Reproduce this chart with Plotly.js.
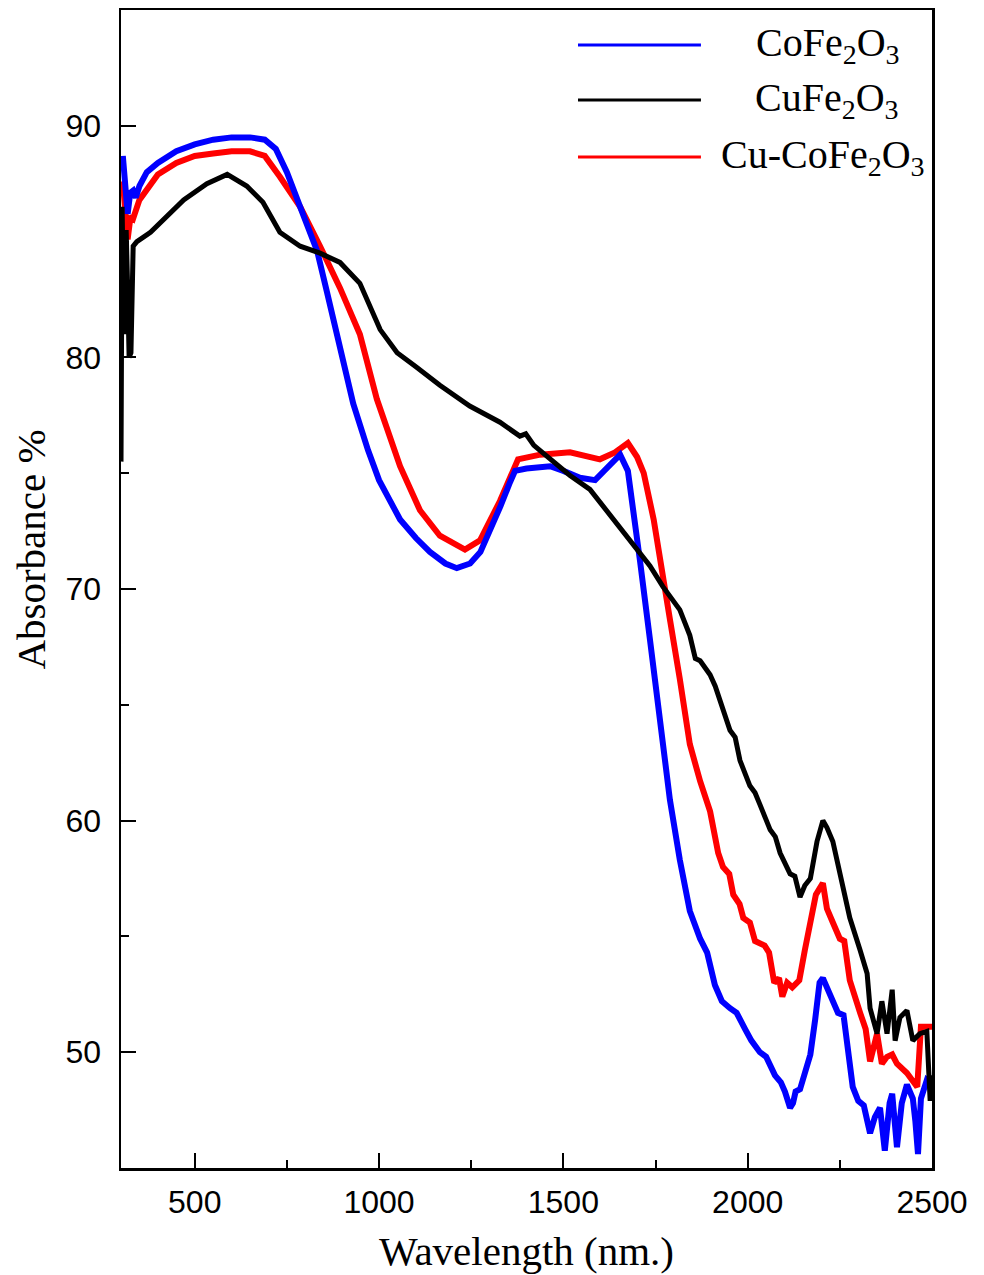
<!DOCTYPE html>
<html><head><meta charset="utf-8">
<script src="https://cdn.plot.ly/plotly-3.0.1.min.js"></script>
<style>html,body{margin:0;padding:0;background:#fff}#chart{width:984px;height:1275px}</style>
</head><body><div id="chart"></div>
<script>
// Series names
const seriesNames = ["CoFe<sub>2</sub>O<sub>3</sub>", "CuFe<sub>2</sub>O<sub>3</sub>", "Cu-CoFe<sub>2</sub>O<sub>3</sub>"];
const seriesColors = ["#0000ff", "#000000", "#ff0000"];

// CoFe2O3 (blue)
const coX = [305,312,318,325,333,340,350,370,400,450,500,550,600,650,690,720,750,786,810,832,859,894,930,970,1000,1057,1100,1138,1180,1211,1247,1275,1301,1330,1355,1369,1400,1464,1500,1545,1586,1626,1654,1675,1690,1708,1735,1762,1789,1816,1843,1871,1890,1911,1930,1952,1970,1993,2010,2033,2050,2074,2090,2101,2115,2123,2130,2142,2155,2170,2183,2195,2204,2215,2231,2245,2260,2272,2285,2300,2315,2332,2345,2359,2372,2385,2392,2405,2418,2432,2448,2455,2462,2470,2486,2500];
const coY = [88.7,87.5,86.2,87.1,87.2,86.9,87.4,88.0,88.4,88.9,89.2,89.4,89.5,89.5,89.4,89.0,88.0,86.5,85.5,84.6,82.8,80.3,78.0,76.0,74.7,73.0,72.2,71.6,71.1,70.9,71.1,71.6,72.5,73.6,74.6,75.1,75.2,75.3,75.1,74.8,74.7,75.3,75.8,75.1,73.5,71.2,67.8,64.3,60.9,58.3,56.1,54.9,54.3,52.9,52.2,51.9,51.7,51.0,50.5,50.0,49.8,49.0,48.7,48.3,47.6,47.8,48.3,48.4,49.2,49.9,51.4,53.0,53.2,52.8,52.3,51.7,51.6,49.9,48.5,47.9,47.7,46.5,47.2,47.6,45.75,47.8,48.2,45.9,47.8,48.6,48.0,47.0,45.6,48.0,48.8,48.6];

// CuFe2O3 (black)
const cuX = [300,303,308,314,318,322,327,333,343,380,470,533,588,641,685,731,786,840,894,948,1003,1049,1100,1165,1246,1328,1382,1398,1420,1464,1518,1572,1626,1680,1735,1770,1816,1843,1858,1871,1898,1912,1925,1952,1966,1979,2006,2020,2033,2061,2075,2088,2115,2128,2142,2155,2170,2188,2204,2215,2231,2250,2277,2305,2324,2332,2351,2364,2378,2392,2400,2413,2432,2448,2467,2486,2495,2500];
const cuY = [75.5,86.5,81.0,85.5,83.0,80.0,80.2,84.8,85.0,85.4,86.8,87.5,87.9,87.4,86.7,85.4,84.8,84.5,84.1,83.2,81.2,80.2,79.6,78.8,77.9,77.2,76.6,76.7,76.2,75.6,74.9,74.3,73.2,72.1,71.0,70.1,69.1,68.0,67.0,66.9,66.3,65.8,65.2,63.9,63.6,62.6,61.5,61.2,60.7,59.6,59.3,58.6,57.7,57.6,56.7,57.2,57.5,59.1,60.0,59.7,59.1,57.7,55.8,54.4,53.4,51.9,50.8,52.2,50.8,52.7,50.5,51.5,51.8,50.5,50.8,50.9,47.9,49.0];

// Cu-CoFe2O3 (red)
const cucoX = [305,312,318,326,333,350,400,450,500,550,600,650,690,731,786,840,894,948,994,1057,1111,1165,1233,1274,1328,1377,1437,1518,1599,1640,1675,1700,1718,1745,1772,1790,1816,1843,1871,1898,1920,1933,1950,1961,1978,1988,2006,2020,2046,2058,2072,2085,2094,2107,2121,2140,2155,2170,2185,2204,2215,2231,2250,2262,2277,2305,2320,2332,2351,2364,2378,2392,2405,2432,2452,2460,2470,2490,2500];
const cucoY = [87.6,86.0,85.1,86.1,86.0,86.8,87.9,88.4,88.7,88.8,88.9,88.9,88.7,87.8,86.5,84.8,83.0,81.0,78.2,75.3,73.4,72.3,71.7,72.1,73.8,75.6,75.8,75.9,75.6,75.9,76.3,75.7,75.0,73.0,70.1,68.6,66.1,63.3,61.7,60.4,58.6,58.0,57.7,56.8,56.4,55.8,55.6,54.8,54.6,54.3,53.0,53.2,52.4,53.0,52.8,53.1,54.4,55.6,56.8,57.3,56.2,55.6,54.9,54.8,53.1,51.7,51.0,49.6,50.8,49.5,49.8,49.9,49.5,49.1,48.6,48.5,51.1,51.1,51.1];

const xTickVals = [500,1000,1500,2000,2500];
const yTickVals = [50,60,70,80,90];
const xTitle = "Wavelength (nm.)";
const yTitle = "Absorbance %";

const serif = "Liberation Serif, Times New Roman, serif";
const sans = "Liberation Sans, Arial, sans-serif";

const traces = [
  {x: coX, y: coY, name: seriesNames[0], mode: "lines", line: {color: seriesColors[0], width: 6}},
  {x: cuX, y: cuY, name: seriesNames[1], mode: "lines", line: {color: seriesColors[1], width: 5}},
  {x: cucoX, y: cucoY, name: seriesNames[2], mode: "lines", line: {color: seriesColors[2], width: 6}}
];
const data = [traces[2], traces[0], traces[1]];

const legY = [0.9698, 0.9223, 0.873];
const legTextX = [0.872, 0.870, 0.866];
const shapes = [], annotations = [];
seriesNames.forEach((n, i) => {
  shapes.push({type: "line", xref: "paper", yref: "paper", x0: 0.5635, x1: 0.7151, y0: legY[i], y1: legY[i], line: {color: seriesColors[i], width: 3}});
  annotations.push({xref: "paper", yref: "paper", x: legTextX[i], y: legY[i], xanchor: "center", yanchor: "middle", showarrow: false, text: n, font: {family: serif, size: 40, color: "#000"}});
});
annotations.push({xref: "paper", yref: "paper", x: 0.5, y: -0.0715, xanchor: "center", yanchor: "middle", showarrow: false, text: xTitle, font: {family: serif, size: 41, color: "#000"}});
annotations.push({xref: "paper", yref: "paper", x: -0.111, y: 0.534, xanchor: "center", yanchor: "middle", textangle: -90, showarrow: false, text: yTitle, font: {family: serif, size: 41, color: "#000"}});

const layout = {
  width: 984, height: 1275,
  margin: {l: 121, r: 52, t: 10, b: 107},
  paper_bgcolor: "#fff", plot_bgcolor: "#fff",
  showlegend: false,
  xaxis: {range: [300, 2500], tickvals: xTickVals, ticks: "inside", ticklen: 15, tickwidth: 2, tickcolor: "#000",
    minor: {dtick: 250, tick0: 0, ticks: "inside", ticklen: 8, tickwidth: 2, tickcolor: "#000", showgrid: false},
    showline: true, linewidth: 2.5, linecolor: "#000", mirror: true, showgrid: false, zeroline: false,
    tickfont: {family: sans, size: 32, color: "#000"}, ticklabelstandoff: 4},
  yaxis: {range: [45, 95], tickvals: yTickVals, ticks: "inside", ticklen: 15, tickwidth: 2, tickcolor: "#000",
    minor: {dtick: 5, tick0: 0, ticks: "inside", ticklen: 8, tickwidth: 2, tickcolor: "#000", showgrid: false},
    showline: true, linewidth: 2.5, linecolor: "#000", mirror: true, showgrid: false, zeroline: false,
    tickfont: {family: sans, size: 32, color: "#000"}, ticklabelstandoff: 11},
  shapes: shapes,
  annotations: annotations
};
Plotly.newPlot("chart", data, layout, {staticPlot: true, displayModeBar: false});
</script></body></html>
